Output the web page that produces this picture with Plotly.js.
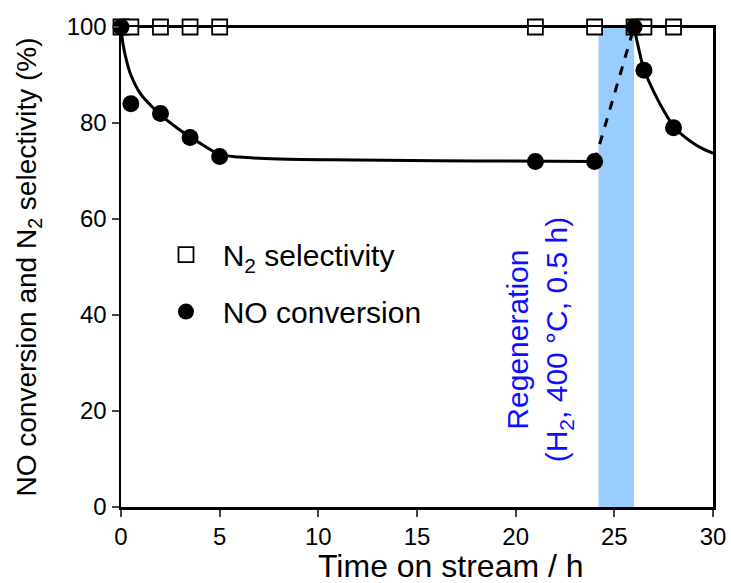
<!DOCTYPE html>
<html>
<head>
<meta charset="utf-8">
<script src="https://cdn.plot.ly/plotly-3.0.1.min.js"></script>
<style>html,body{margin:0;padding:0;background:#fff;}#chart{width:731px;height:583px;}</style>
</head>
<body>
<div id="chart"></div>
<script>
// Measured data
const timeH = [0, 0.5, 2, 3.5, 5, 21, 24, 26, 26.5, 28];
const noConversion = [100, 84, 82, 77, 73, 72, 72, 100, 91, 79];
const n2Selectivity = [100, 100, 100, 100, 100, 100, 100, 100, 100, 100];

// Fitted curve, first run
const fit1X = [0, 0.1, 0.25, 0.5, 1, 1.5, 2, 3, 3.5, 4, 5, 6, 8, 12, 18, 24];
const fit1Y = [100, 96.5, 93.5, 90, 86, 83.7, 81.7, 78.5, 77.1, 75.8, 73.5, 72.9, 72.5, 72.3, 72.1, 72];
// Regeneration jump (dashed)
const jumpX = [24, 26];
const jumpY = [72, 100];
// Fitted curve after regeneration
const fit2X = [26, 26.25, 26.5, 27, 27.5, 28, 28.5, 29, 29.5, 30];
const fit2Y = [100, 95.2, 91.2, 86.5, 82.6, 79.3, 77.3, 75.8, 74.6, 73.7];
// Selectivity line
const selLineX = [0, 30];
const selLineY = [100, 100];

// Regeneration window
const regenStart = 24.2, regenEnd = 26;

const xTicks = [0, 5, 10, 15, 20, 25, 30];
const yTicks = [0, 20, 40, 60, 80, 100];

const font = 'Liberation Sans, Arial, sans-serif';

const traces = [
  {x: selLineX, y: selLineY, mode: 'lines', line: {color: 'black', width: 2.2}, showlegend: false, hoverinfo: 'skip', cliponaxis: false},
  {x: fit1X, y: fit1Y, mode: 'lines', line: {color: 'black', width: 3, shape: 'spline'}, showlegend: false, cliponaxis: false},
  {x: jumpX, y: jumpY, mode: 'lines', line: {color: 'black', width: 3, dash: 'dash'}, showlegend: false},
  {x: fit2X, y: fit2Y, mode: 'lines', line: {color: 'black', width: 3, shape: 'spline'}, showlegend: false, cliponaxis: false},
  {x: timeH, y: n2Selectivity, mode: 'markers', name: '&nbsp;&nbsp;N<sub>2</sub> selectivity', legendgroup: 'a',
   marker: {symbol: 'square', size: 15, color: 'white', line: {color: 'black', width: 1.8}}, cliponaxis: false},
  {x: timeH, y: noConversion, mode: 'markers', name: '&nbsp;&nbsp;NO conversion', legendgroup: 'b',
   marker: {symbol: 'circle', size: 17, color: 'black'}, cliponaxis: false}
];

const layout = {
  width: 731, height: 583,
  margin: {l: 121, r: 18, t: 27, b: 76},
  paper_bgcolor: 'white', plot_bgcolor: 'white',
  font: {family: font, color: 'black', size: 24},
  showlegend: true,
  legend: {x: 0.076, y: 0.58, xanchor: 'left', yanchor: 'top', bgcolor: 'rgba(0,0,0,0)',
    font: {family: font, size: 30, color: 'black'}, traceorder: 'grouped', tracegroupgap: 15},
  xaxis: {
    range: [0, 30], tickvals: xTicks, ticks: 'outside', ticklen: 7, tickwidth: 2,
    showline: true, linewidth: 2.5, linecolor: 'black', mirror: true, showgrid: false, zeroline: false,
    tickfont: {size: 24, family: font}
  },
  yaxis: {
    range: [0, 100], tickvals: yTicks, ticks: 'outside', ticklen: 7, tickwidth: 2,
    showline: true, linewidth: 2.5, linecolor: 'black', mirror: true, showgrid: false, zeroline: false,
    tickfont: {size: 24, family: font},
    title: {text: 'NO conversion and N<sub>2</sub> selectivity (%)', font: {size: 28, family: font}, standoff: 22}
  },
  shapes: [
    {type: 'rect', xref: 'x', yref: 'y', x0: regenStart, x1: regenEnd, y0: 0, y1: 100,
     fillcolor: '#99ccff', line: {width: 0}, layer: 'below'}
  ],
  annotations: [
    {xref: 'x', yref: 'y', x: 21.2, y: 34.8, text: 'Regeneration<br>(H<sub>2</sub>, 400 °C, 0.5 h)', showarrow: false,
     textangle: -90, font: {size: 30, family: font, color: '#0f0fff'}, align: 'center'},
    {xref: 'paper', yref: 'paper', x: 0.557, y: -0.123, xanchor: 'center', yanchor: 'middle',
     text: 'Time on stream / h', showarrow: false, font: {size: 32, family: font, color: 'black'}}
  ]
};

Plotly.newPlot('chart', traces, layout, {displayModeBar: false, staticPlot: true});
</script>
</body>
</html>
